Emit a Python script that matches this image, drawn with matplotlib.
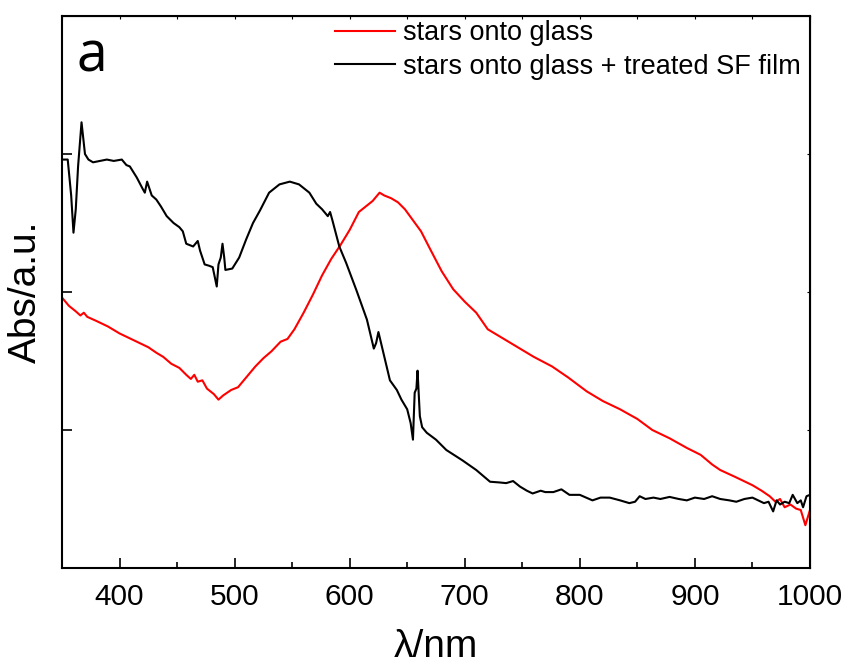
import matplotlib
matplotlib.use("Agg")
import matplotlib.pyplot as plt
import numpy as np

plt.rcParams['font.family'] = ['Liberation Sans', 'DejaVu Sans']

# stars onto glass (red)
red_x = [350, 356, 362, 366, 369, 372, 380, 390, 400, 410, 420, 425, 432, 438, 445,
         452, 458, 462, 465, 468, 472, 476, 482, 486, 490, 497, 503, 510, 518, 525,
         532, 540, 546, 552, 560, 568, 576, 584, 592, 600, 608, 614, 620, 626, 630,
         636, 642, 648, 655, 662, 670, 680, 690, 700, 710, 720, 730, 740, 748, 760,
         776, 790, 806, 820, 835, 850, 863, 878, 893, 905, 915, 922, 935, 950, 958,
         965, 970, 974, 978, 983, 988, 992, 996, 1000]
red_y = [1.96, 1.90, 1.86, 1.83, 1.85, 1.82, 1.79, 1.75, 1.70, 1.66, 1.62, 1.60, 1.56, 1.53, 1.48,
         1.45, 1.40, 1.37, 1.40, 1.35, 1.36, 1.30, 1.26, 1.22, 1.25, 1.29, 1.31, 1.38, 1.46, 1.52,
         1.57, 1.64, 1.66, 1.73, 1.85, 1.98, 2.12, 2.24, 2.34, 2.45, 2.58, 2.62, 2.66, 2.72, 2.70,
         2.68, 2.65, 2.60, 2.52, 2.44, 2.31, 2.15, 2.02, 1.93, 1.85, 1.73, 1.68, 1.63, 1.59, 1.53,
         1.46, 1.38, 1.28, 1.21, 1.15, 1.08, 1.00, 0.94, 0.87, 0.82, 0.75, 0.71, 0.66, 0.60, 0.56,
         0.52, 0.48, 0.50, 0.44, 0.46, 0.43, 0.42, 0.31, 0.42]

# stars onto glass + treated SF film (black)
blk_x = [350, 355, 358, 360, 362, 364, 367, 370, 373, 377, 383, 389, 395, 402, 406, 409,
         415, 420, 422, 424, 428, 432, 436, 441, 447, 452, 455, 458, 464, 468, 470, 474,
         478, 481, 484.5, 486, 488, 489.5, 491, 492, 498, 504, 510, 516, 522, 530, 539,
         548, 556, 565, 571, 576, 581, 583, 585, 591, 597, 606, 615, 619, 621, 623, 625,
         628.7, 635, 641, 645, 650, 653, 655, 656.5, 658, 659, 661, 663, 667, 675, 684,
         698, 710, 722, 730, 736, 742, 748, 754, 759, 766, 770, 777, 784, 791, 800, 811,
         818, 826, 835, 843, 848, 852, 857, 864, 870, 878, 886, 893, 900, 908, 915, 922,
         930, 936, 943, 950, 955, 960, 964, 968, 971, 974, 978, 982, 985, 989, 992, 994,
         997, 1000]
blk_y = [2.96, 2.96, 2.70, 2.43, 2.60, 2.91, 3.23, 3.00, 2.96, 2.94, 2.95, 2.96, 2.95, 2.96, 2.92, 2.91,
         2.83, 2.75, 2.72, 2.80, 2.70, 2.67, 2.62, 2.55, 2.50, 2.47, 2.44, 2.35, 2.33, 2.37, 2.30, 2.20,
         2.19, 2.18, 2.04, 2.20, 2.25, 2.35, 2.25, 2.16, 2.17, 2.25, 2.38, 2.50, 2.59, 2.72, 2.78,
         2.80, 2.78, 2.72, 2.64, 2.60, 2.55, 2.58, 2.52, 2.33, 2.21, 2.01, 1.80, 1.66, 1.59, 1.63, 1.71,
         1.58, 1.36, 1.29, 1.22, 1.15, 1.05, 0.93, 1.27, 1.30, 1.43, 1.10, 1.02, 0.98, 0.93, 0.855,
         0.78, 0.71, 0.625, 0.62, 0.615, 0.63, 0.59, 0.56, 0.54, 0.56, 0.55, 0.55, 0.57, 0.53, 0.53, 0.49,
         0.51, 0.51, 0.49, 0.47, 0.48, 0.52, 0.50, 0.51, 0.50, 0.515, 0.50, 0.49, 0.51, 0.50, 0.52, 0.50,
         0.49, 0.48, 0.50, 0.51, 0.49, 0.47, 0.48, 0.41, 0.49, 0.46, 0.48, 0.47, 0.53, 0.47, 0.49, 0.44,
         0.52, 0.53]

fig = plt.figure(figsize=(8.5, 6.69), dpi=100)
ax = fig.add_axes([0.0729, 0.151, 0.8800, 0.825])

ax.plot(red_x, red_y, color='#ff0000', lw=1.5, label='stars onto glass')
ax.plot(blk_x, blk_y, color='black', lw=1.5, label='stars onto glass + treated SF film')

ax.set_xlim(350, 1000)
ax.set_ylim(0, 4)
ax.set_xticks([400, 500, 600, 700, 800, 900, 1000])
ax.set_xticks(np.arange(350, 1001, 50), minor=True)
ax.set_yticks([1, 2, 3, 4])
ax.set_yticklabels([])
ax.tick_params(axis='both', which='major', direction='in', length=7, width=1.2,
               labelsize=21.5, pad=11)
ax.tick_params(axis='x', which='minor', direction='in', length=4, width=1.2)
for s in ax.spines.values():
    s.set_linewidth(1.5)

top = ax.secondary_xaxis('top')
top.set_xticks(np.arange(350, 1001, 50))
top.tick_params(direction='in', length=2.5, width=0.8, labeltop=False)
right = ax.secondary_yaxis('right')
right.set_yticks([1, 2, 3])
right.tick_params(direction='in', length=2.5, width=0.8, labelright=False)

ax.set_xlabel('λ/nm', fontsize=28)
ax.xaxis.set_label_coords(0.5, -0.11)
ax.set_ylabel('Abs/a.u.', fontsize=28)
ax.yaxis.set_label_coords(-0.024, 0.5)

ax.text(0.02, 0.9, 'a', transform=ax.transAxes, fontsize=40,
        family=['Open Sans', 'DejaVu Sans'])

ax.legend(loc='upper left', bbox_to_anchor=(0.351, 1.012), frameon=False,
          fontsize=19.5, handlelength=2.2, handletextpad=0.3, labelspacing=0.28,
          borderaxespad=0)

fig.savefig('out.png', dpi=100)
